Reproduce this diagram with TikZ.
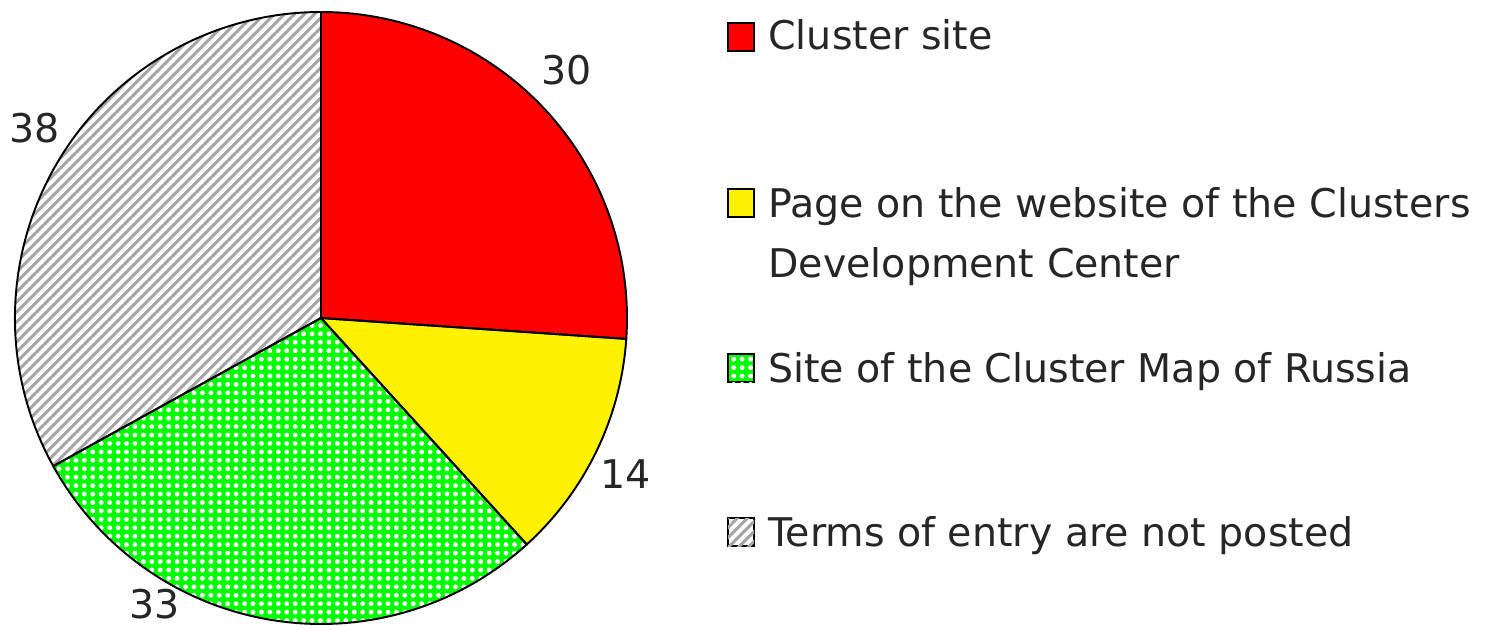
\documentclass[tikz,border=0pt]{standalone}
\usepackage{fontspec}
\setmainfont{DejaVu Sans}
\usetikzlibrary{patterns.meta}
\tikzset{
  slice/.style={draw=black,line width=1.1pt,line join=round},
  legbox/.style={draw=black,line width=1.2pt,minimum width=0.52cm,minimum height=0.56cm,inner sep=0pt},
  legtext/.style={anchor=base west,inner sep=0pt,text=black!85,align=left},
  val/.style={text=black!85,inner sep=0pt},
  greendots/.style={pattern={Dots[distance=4.8pt,radius=1.4pt]},pattern color=white},
  greylines/.style={pattern={Lines[angle=45,distance=4pt,line width=1.8pt]},pattern color=black!35},
}

\begin{document}
\begin{tikzpicture}[x=0.02cm,y=0.02cm,font=\fontsize{22.5}{34}\selectfont]
\useasboundingbox (-321,-311) rectangle (1175,318);
\coordinate (O) at (0,0);

% slices, 115 answers in all: 30, 14, 33, 38
\foreach \fillc/\a/\b in {red/90/-3.913,yellow/-3.913/-47.739,green/-47.739/-151.043,white/-151.043/-270}
  \fill[\fillc] (O) -- (\a:306) arc (\a:\b:306) -- cycle;
\fill[greendots] (O) -- (-47.739:306) arc (-47.739:-151.043:306) -- cycle;
\fill[greylines] (O) -- (-151.043:306) arc (-151.043:-270:306) -- cycle;
\foreach \a/\b in {90/-3.913,-3.913/-47.739,-47.739/-151.043,-151.043/-270}
  \draw[slice] (O) -- (\a:306) arc (\a:\b:306) -- cycle;

\node[val] (n30) at (246,248)   {30};
\node[val] (n14) at (305,-156)  {14};
\node[val] (n33) at (-166,-286) {33};
\node[val] (n38) at (-286,190)  {38};

% legend
\node[legbox,fill=red]    (kred) at (420,281)  {};
\node[legbox,fill=yellow] (kyel) at (420,115)  {};
\node[legbox,fill=green,postaction={greendots}] (kgrn) at (420,-50) {};
\node[legbox,fill=white,postaction={greylines}] (kgry) at (420,-214) {};

\node[legtext] (tred) at (447,268)  {Cluster site};
\node[legtext] (tyel) at (447,41)   {Page on the website of the Clusters\\Development Center};
\node[legtext] (tgrn) at (447,-64)  {Site of the Cluster Map of Russia};
\node[legtext] (tgry) at (447,-228) {Terms of entry are not posted};
\end{tikzpicture}
\end{document}
